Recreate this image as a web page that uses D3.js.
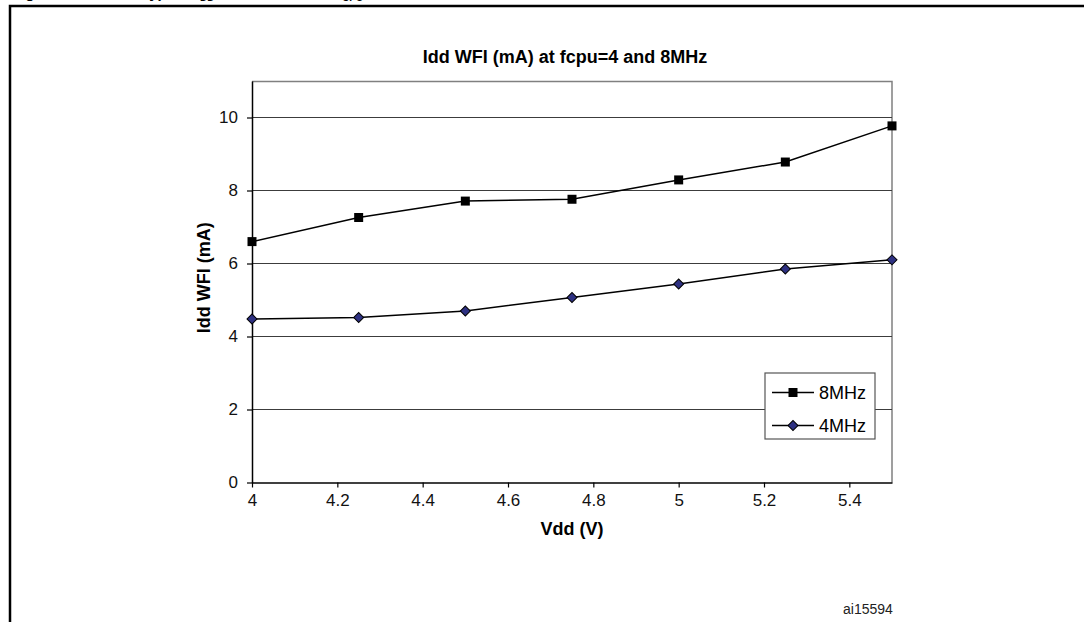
<!DOCTYPE html>
<html>
<head>
<meta charset="utf-8">
<style>
  body { margin: 0; background: #fff; }
  text { font-family: Arial, "Liberation Sans", sans-serif; }
</style>
</head>
<body>
<div id="container"></div>
<script src="https://d3js.org/d3.v7.min.js"></script>
<script>
// data
var vdd = [4, 4.25, 4.5, 4.75, 5, 5.25, 5.5];
var idd8MHz = [6.6, 7.26, 7.71, 7.76, 8.29, 8.78, 9.77];
var idd4MHz = [4.48, 4.52, 4.70, 5.07, 5.44, 5.85, 6.10];
var xTicks = [4, 4.2, 4.4, 4.6, 4.8, 5, 5.2, 5.4];
var yTicks = [0, 2, 4, 6, 8, 10];
var seriesNames = ["8MHz", "4MHz"];

var W = 1084, H = 622;
var margin = {top: 81, right: 192, bottom: 139.5, left: 252},
    width = W - margin.left - margin.right,
    height = H - margin.top - margin.bottom;

var svg = d3.select("#container").append("svg")
    .attr("width", W)
    .attr("height", H);

// outer frame (open on right and bottom)
svg.append("path")
    .attr("d", "M10,625 L10,6 L1090,6")
    .attr("fill", "none")
    .attr("stroke", "#000")
    .attr("stroke-width", 2.5);

// figure caption, mostly cut off at the top
svg.append("text")
    .attr("x", 12).attr("y", -2)
    .style("font-size", "15px").style("font-weight", "bold")
    .html('Figure 30.&#160;&#160;&#160;&#160;&#160;&#160;&#160;&#160;&#160;&#160;&#160;&#160;&#160;&#160;Typical I<tspan dy="3" font-size="10px">DD</tspan><tspan dy="-3"> in WFI mode vs. f</tspan><tspan dy="3" font-size="10px">CPU</tspan>');

var g = svg.append("g")
    .attr("transform", "translate(" + margin.left + "," + margin.top + ")");

var x = d3.scaleLinear().domain([4, 5.5]).range([0, width]);
var y = d3.scaleLinear().domain([0, 11]).range([height, 0]);

// plot border (top and right)
g.append("path")
    .attr("d", "M0,0.5 H" + width + " V" + height)
    .attr("fill", "none")
    .attr("stroke", "#808080")
    .attr("stroke-width", 1.5);

// gridlines
g.selectAll(".grid").data(yTicks.filter(function (d) { return d > 0; }))
  .enter().append("line")
    .attr("x1", 0).attr("x2", width)
    .attr("y1", function (d) { return y(d); })
    .attr("y2", function (d) { return y(d); })
    .attr("stroke", "#3c3c3c")
    .attr("stroke-width", 1.2);

// axes
var xAxis = g.append("g")
    .attr("transform", "translate(0," + height + ")")
    .call(d3.axisBottom(x).tickValues(xTicks).tickSize(5).tickSizeOuter(0)
      .tickFormat(function (d) { return d3.format("")(+d.toFixed(1)); }));
var yAxis = g.append("g")
    .call(d3.axisLeft(y).tickValues(yTicks).tickSize(5).tickSizeOuter(0));

[xAxis, yAxis].forEach(function (a) {
  a.select(".domain").attr("stroke", "#000").attr("stroke-width", 1.5);
  a.selectAll(".tick line").attr("stroke", "#000").attr("stroke-width", 1.2);
  a.selectAll(".tick text")
    .attr("fill", "#111")
    .style("font-size", "17px")
    .style("font-family", "Arial, 'Liberation Sans', sans-serif");
});
xAxis.selectAll(".tick text").attr("y", 11);
yAxis.selectAll(".tick text").attr("x", -14);

// axis titles
g.append("text")
    .attr("x", width / 2).attr("y", height + 52)
    .attr("text-anchor", "middle")
    .style("font-size", "18px").style("font-weight", "bold")
    .text("Vdd (V)");

g.append("text")
    .attr("transform", "translate(-42," + (height / 2 - 4) + ") rotate(-90)")
    .attr("text-anchor", "middle")
    .style("font-size", "18px").style("font-weight", "bold")
    .text("Idd WFI (mA)");

// chart title
svg.append("text")
    .attr("x", 565).attr("y", 63)
    .attr("text-anchor", "middle")
    .style("font-size", "18px").style("font-weight", "bold")
    .text("Idd WFI (mA) at fcpu=4 and 8MHz");

// lines
var line = d3.line()
    .x(function (d) { return x(d[0]); })
    .y(function (d) { return y(d[1]); });

var data8 = vdd.map(function (v, i) { return [v, idd8MHz[i]]; });
var data4 = vdd.map(function (v, i) { return [v, idd4MHz[i]]; });

g.append("path").datum(data8).attr("d", line)
    .attr("fill", "none").attr("stroke", "#000").attr("stroke-width", 1.5);
g.append("path").datum(data4).attr("d", line)
    .attr("fill", "none").attr("stroke", "#000").attr("stroke-width", 1.5);

var sq = d3.symbol().type(d3.symbolSquare).size(81);
// square turned 45 degrees, as in the reference
var dia = d3.symbol().type(d3.symbolSquare).size(50);

g.selectAll(".m8").data(data8).enter().append("path")
    .attr("d", sq)
    .attr("transform", function (d) { return "translate(" + x(d[0]) + "," + y(d[1]) + ")"; })
    .attr("fill", "#000");
g.selectAll(".m4").data(data4).enter().append("path")
    .attr("d", dia)
    .attr("transform", function (d) { return "translate(" + x(d[0]) + "," + y(d[1]) + ") rotate(45)"; })
    .attr("fill", "#2e3182").attr("stroke", "#000").attr("stroke-width", 1);

// legend
var legend = svg.append("g").attr("transform", "translate(765,373)");
legend.append("rect")
    .attr("width", 110).attr("height", 66)
    .attr("fill", "#fff").attr("stroke", "#555").attr("stroke-width", 1.2);
var items = legend.selectAll(".item").data(seriesNames).enter().append("g")
    .attr("transform", function (d, i) { return "translate(0," + (19.5 + i * 33) + ")"; });
items.append("line")
    .attr("x1", 7).attr("x2", 49)
    .attr("stroke", "#000").attr("stroke-width", 1.5);
items.append("path")
    .attr("d", function (d, i) { return i === 0 ? sq() : dia(); })
    .attr("transform", function (d, i) { return i === 0 ? "translate(28,0)" : "translate(28,0) rotate(45)"; })
    .attr("fill", function (d, i) { return i === 0 ? "#000" : "#2e3182"; })
    .attr("stroke", function (d, i) { return i === 0 ? "none" : "#000"; });
items.append("text")
    .attr("x", 54).attr("y", 6.5)
    .style("font-size", "18px")
    .text(function (d) { return d; });

// figure id
svg.append("text")
    .attr("x", 843).attr("y", 614)
    .style("font-size", "14px")
    .attr("fill", "#222")
    .text("ai15594");
</script>
</body>
</html>
